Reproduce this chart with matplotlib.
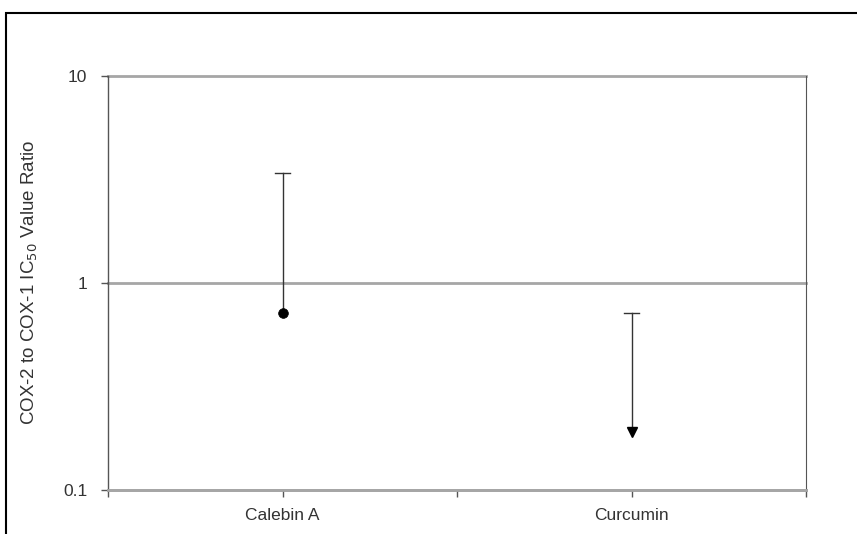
import matplotlib
matplotlib.use("Agg")
import matplotlib.pyplot as plt
from matplotlib.patches import Rectangle
from matplotlib.ticker import FixedLocator, FixedFormatter, NullLocator

plt.rcParams['font.family'] = ['Liberation Sans', 'DejaVu Sans']

categories = ["Calebin A", "Curcumin"]
point_values = [0.72, 0.19]       # marker value
upper_values = [3.4, 0.72]        # top of the error line (cap)
markers = ["o", "v"]
yticks = [0.1, 1, 10]
ytick_labels = ["0.1", "1", "10"]

fig = plt.figure(figsize=(8.57, 5.34), dpi=100)
ax = fig.add_axes([108/857, 1-490/534, (806-108)/857, (490-76)/534])

xpos = [0.5, 1.5]
for x, v, u, m in zip(xpos, point_values, upper_values, markers):
    ax.plot([x, x], [v, u], color="#333333", lw=1.0, zorder=3)
    ax.plot([x - 0.022, x + 0.022], [u, u], color="#333333", lw=1.0, zorder=3)
    if m == "o":
        ax.plot([x], [v], marker="o", ms=7, mfc="black", mec="black",
                zorder=4, markeredgewidth=0.5)
    else:
        ax.plot([x], [v], marker="v", ms=7, mfc="black", mec="black", zorder=4)

ax.set_yscale("log")
ax.set_ylim(0.1, 10)
ax.set_xlim(0, 2)
for y in yticks:
    ax.axhline(y, color="#a6a6a6", lw=2.0, zorder=1, clip_on=False)

ax.yaxis.set_major_locator(FixedLocator(yticks))
ax.yaxis.set_major_formatter(FixedFormatter(ytick_labels))
ax.yaxis.set_minor_locator(NullLocator())
ax.set_xticks([0, 0.5, 1, 1.5, 2])
ax.set_xticklabels(["", categories[0], "", categories[1], ""])
ax.tick_params(axis="both", direction="out", length=5, width=1,
               color="#555555", labelsize=12.5, labelcolor="#333333")
ax.tick_params(axis="x", pad=8)
ax.tick_params(axis="y", pad=10)

ax.spines["top"].set_visible(False)
ax.spines["bottom"].set_color("#a6a6a6")
ax.spines["bottom"].set_linewidth(2.0)
ax.spines["left"].set_color("#555555")
ax.spines["left"].set_linewidth(1.0)
ax.spines["right"].set_color("#555555")
ax.spines["right"].set_linewidth(0.8)

fig.text(30/857, 1-282/534, "COX-2 to COX-1 IC$_{50}$ Value Ratio",
         rotation=90, fontsize=13.5, color="#333333", ha="center", va="center")

frame = Rectangle((6/857, -0.1), 1.0, 1.1 - 13/534, transform=fig.transFigure,
                  fill=False, edgecolor="black", lw=1.5, clip_on=False)
fig.patches.append(frame)

fig.savefig("out.png", dpi=100)
